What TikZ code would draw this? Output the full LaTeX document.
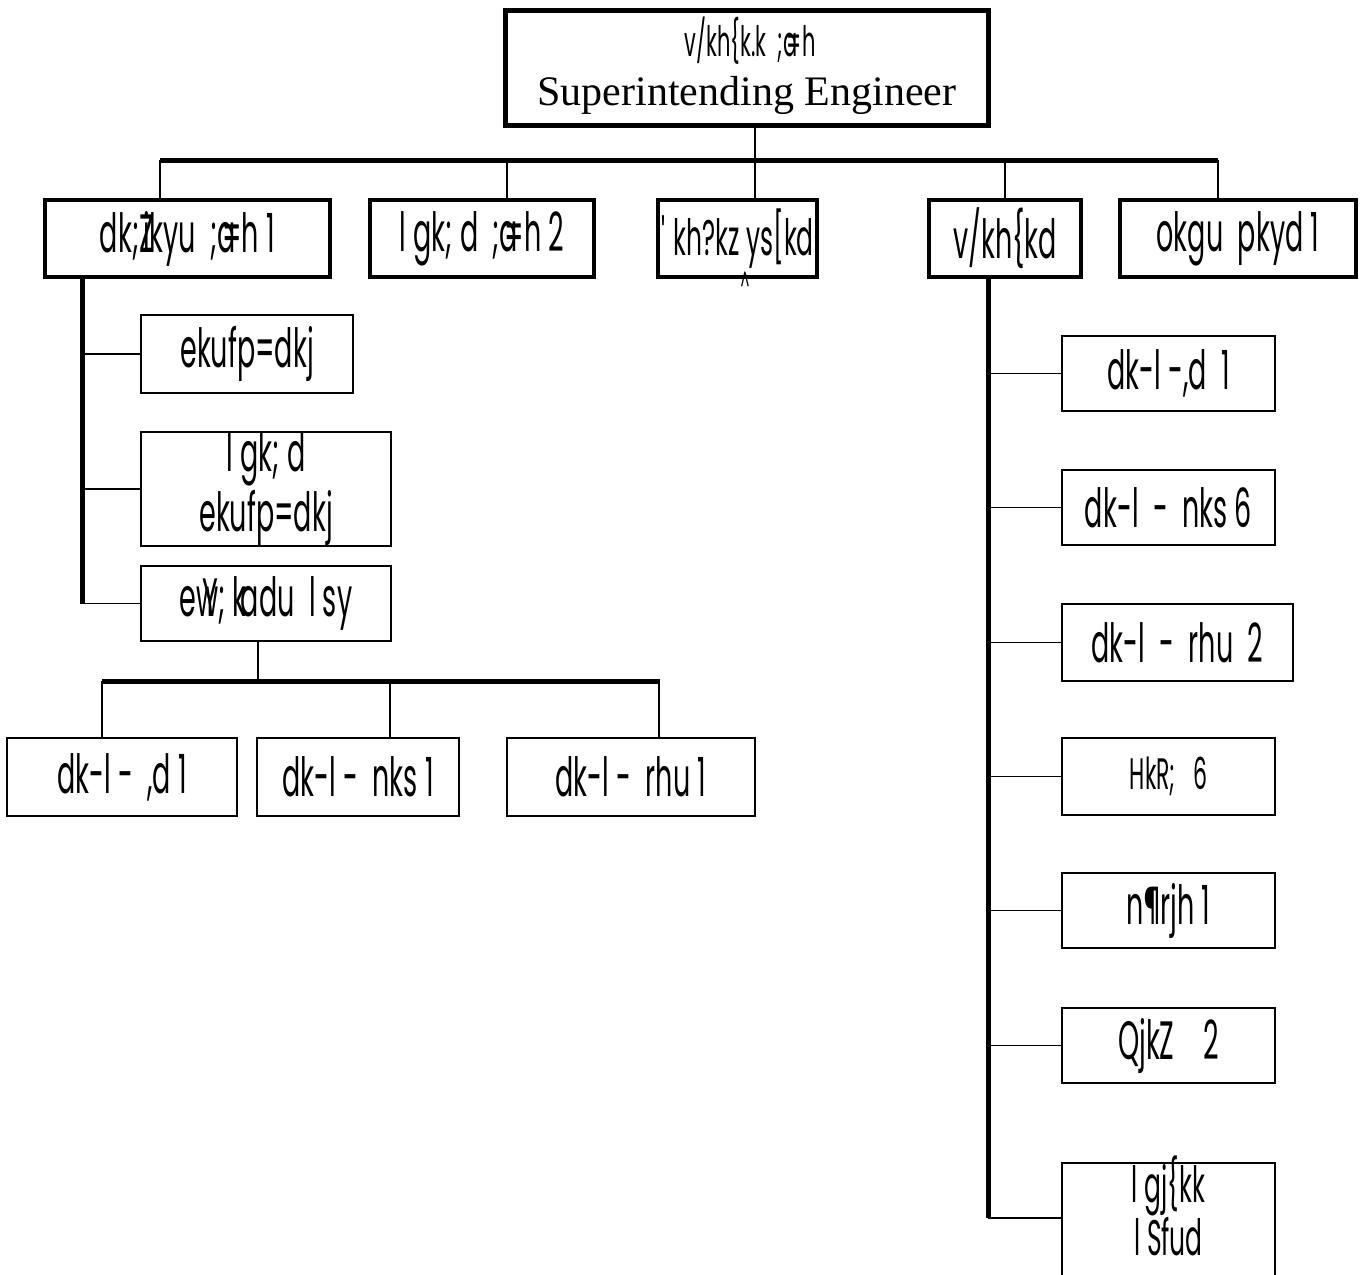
\documentclass[tikz,border=0pt]{standalone}
\usepackage{fontspec}
\setmainfont{Liberation Serif}
\newfontfamily\kd[FakeStretch=0.5]{Poppins}
\begin{document}
\begin{tikzpicture}[x=0.5pt,y=-0.5pt,
  heavybox/.style={draw, line width=2pt, inner sep=0pt, align=center, font=\kd\fontsize{27}{30}\selectfont},
  lightbox/.style={draw, line width=1pt, inner sep=0pt, align=center, font=\kd\fontsize{27}{30}\selectfont},
  bus/.style={line width=2.5pt},
  link/.style={line width=0.8pt}]
\useasboundingbox (0,0) rectangle (1372,1275);
% top
\node[draw, line width=2.5pt, minimum width=241.5pt, minimum height=57.5pt, inner sep=0pt] (se) at (746.5,67.5) {};
\node[font=\kd\fontsize{21}{24}\selectfont, inner sep=0pt, anchor=base] (set1) at (750,56) {v/kh\{k.k\ \ ;a\kern-0.25em=h};
\node[font=\fontsize{21}{24}\selectfont, inner sep=0pt, anchor=base] (set2) at (747,105) {Superintending Engineer};
% level 1
\node[heavybox, minimum width=142.5pt, minimum height=38.5pt] (ee) at (187.5,238.5) {dk;Z\kern-0.2em ikyu\ \ ;a\kern-0.25em=h 1};
\node[heavybox, minimum width=112pt, minimum height=38.5pt] (ae) at (482,238.5) {l gk; d\ \ ;a\kern-0.25em=h 2};
\node[heavybox, minimum width=79.5pt, minimum height=38.5pt, font=\kd\fontsize{25}{28}\selectfont] (st) at (737.5,238.5) {'\,kh?kz ys[kd};
\node[font=\kd\fontsize{14}{14}\selectfont, inner sep=0pt] (stm) at (745,282) {\^{}};
\node[heavybox, minimum width=76pt, minimum height=38.5pt] (su) at (1005,238.5) {v/kh\{kd};
\node[heavybox, minimum width=118pt, minimum height=38.5pt] (dr) at (1238,238.5) {okgu\ \ pkyd 1};
% left column
\node[lightbox, minimum width=106pt, minimum height=39pt] (dm) at (247,354) {ekufp=dkj};
\node[lightbox, minimum width=125pt, minimum height=57pt] (adm) at (266,489) {l gk; d\\ekufp=dkj};
\node[lightbox, minimum width=125pt, minimum height=37.5pt] (ev) at (266,603.5) {ew\kern-0.3em Y; k\kern-0.1em adu\ \ l sy};
% bottom row
\node[lightbox, minimum width=115pt, minimum height=39pt] (b1) at (122,777) {dk-l -\ \ ,d 1};
\node[lightbox, minimum width=101pt, minimum height=39pt] (b2) at (358,777) {dk-l -\ \ nks 1};
\node[lightbox, minimum width=124pt, minimum height=39pt] (b3) at (631,777) {dk-l -\ \ rhu 1};
% right column
\node[lightbox, minimum width=106.5pt, minimum height=37.5pt] (r1) at (1168.5,373.5) {dk-l -,d\ \ 1};
\node[lightbox, minimum width=106.5pt, minimum height=37.5pt] (r2) at (1168.5,507.5) {dk-l\ \ -\ \ nks 6};
\node[lightbox, minimum width=115.5pt, minimum height=38.5pt] (r3) at (1177.5,642.5) {dk-l\ \ -\ \ rhu\ \ 2};
\node[lightbox, minimum width=106.5pt, minimum height=38.5pt] (r4) at (1168.5,776.5) {\fontsize{22}{24}\selectfont HkR;\ \ \ 6};
\node[lightbox, minimum width=106.5pt, minimum height=37.5pt] (r5) at (1168.5,910.5) {n¶rjh 1};
\node[lightbox, minimum width=106.5pt, minimum height=37.5pt] (r6) at (1168.5,1045.5) {QjkZ\ \ \ \ 2};
\begin{scope}
\clip (0,0) rectangle (1372,1275);
\node[lightbox, minimum width=106.5pt, minimum height=75pt, anchor=north] (r7) at (1168.5,1162) {};
\end{scope}
\node[font=\kd\fontsize{25}{20}\selectfont, align=center, inner sep=0pt] (r7t) at (1168.5,1206) {l gj\{kk\\l Sfud};
% main bus
\coordinate (busL) at (160,160);
\coordinate (busR) at (1218,160);
\draw[bus] (busL) -- (busR);
\draw[link] (755,125) coordinate (setop) -- (setop |- busL);
\draw[link] (busL) -- (busL |- ee.north);
\draw[link] (507,160) coordinate (bae) -- (bae |- ae.north);
\draw[link] (755,160) coordinate (bst) -- (bst |- st.north);
\draw[link] (1005,160) coordinate (bsu) -- (bsu |- su.north);
\draw[link] (busR) -- (busR |- dr.north);
% left spine
\coordinate (lt) at (82,277);
\coordinate (lb) at (82,604);
\draw[bus] (lt) -- (lb);
\draw[link] (dm.west) -- (dm.west -| lt);
\draw[link] (adm.west) -- (adm.west -| lt);
\draw[link] (ev.west) -- (ev.west -| lt);
% evaluation bus
\coordinate (eL) at (102,681);
\coordinate (eR) at (660,681);
\draw[link] (258,641) coordinate (evb) -- (evb |- eL);
\draw[bus] (eL) -- (eR);
\draw[link] (eL) -- (eL |- b1.north);
\draw[link] (390,681) coordinate (e2) -- (e2 |- b2.north);
\draw[link] (659,681) coordinate (e3) -- (e3 |- b3.north);
% right spine
\coordinate (rt) at (988,277);
\coordinate (rb) at (988,1218);
\draw[bus] (rt) -- (rb);
\foreach \n in {r1,r2,r3,r4,r5,r6} \draw[link] (\n.west) -- (\n.west -| rt);
\draw[link] (rb) -- (1062,1218) coordinate (r7w);
\end{tikzpicture}
\end{document}
